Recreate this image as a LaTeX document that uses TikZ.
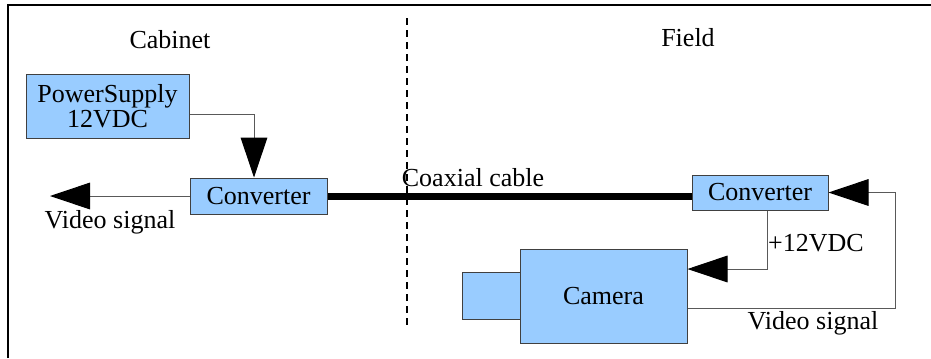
\documentclass[tikz,border=0pt]{standalone}
\usepackage{fontspec}
\setmainfont{Liberation Serif}
\usepackage{tikz}
\usetikzlibrary{positioning}
\usetikzlibrary{arrows.meta}

\definecolor{boxblue}{HTML}{99CCFF}

\begin{document}
\begin{tikzpicture}[x=0.75pt,y=-0.75pt,>={Triangle[length=30pt,width=20pt,color=black]},
  every node/.style={font=\fontsize{19.5}{22}\selectfont},
  box/.style={rectangle,draw=black!75,fill=boxblue,line width=0.75pt,inner sep=0pt,align=center},
  wire/.style={draw=black!65,line width=0.75pt}]
\useasboundingbox (0,0) rectangle (931,358);

% frame and border between cabinet and field
\draw[line width=1pt] (8,358) -- (8,5) -- (931,5);
\draw[line width=1pt,dash pattern=on 5pt off 4pt] (407,18) -- (407,325);

\node (cabinet) at (170,40) {Cabinet};
\node (field) at (688,38) {Field};

\node[box,minimum width=122.25pt,minimum height=48pt] (ps) at (107.5,106) {PowerSupply\\[-3pt]12VDC};
\node[box,minimum width=102.75pt,minimum height=27pt] (convL) at (258.5,196) {Converter};
\node[box,minimum width=102pt,minimum height=26.25pt] (convR) at (760,192.5) {Converter};
\node[box,minimum width=125.25pt,minimum height=70.5pt] (cam) at (603.5,296) {Camera};
\node[box,minimum width=43.5pt,minimum height=35.25pt] (lens) at (491,295.5) {};

\node (coax) at (473,178) {Coaxial cable};
\node (vidL) at (110,222) {Video signal};
\node (volt) at (816,243) {+12VDC};
\node (vidR) at (813,323) {Video signal};

\coordinate (pj) at (254,114);
\coordinate (vout) at (50,196);
\coordinate (pw) at (767,269);
\coordinate (vr) at (895,308);

\draw[wire,->] (ps.east |- pj) -- (pj) -- (pj |- convL.north);
\draw[wire,->] (convL.west) -- (vout);
\draw[line width=5.25pt] (convL.east) -- (convL.east -| convR.west);
\draw[wire,->] (pw |- convR.south) -- (pw) -- (pw -| cam.east);
\draw[wire,->] (cam.east |- vr) -- (vr) -- (vr |- convR.east) -- (convR.east);
\end{tikzpicture}
\end{document}
